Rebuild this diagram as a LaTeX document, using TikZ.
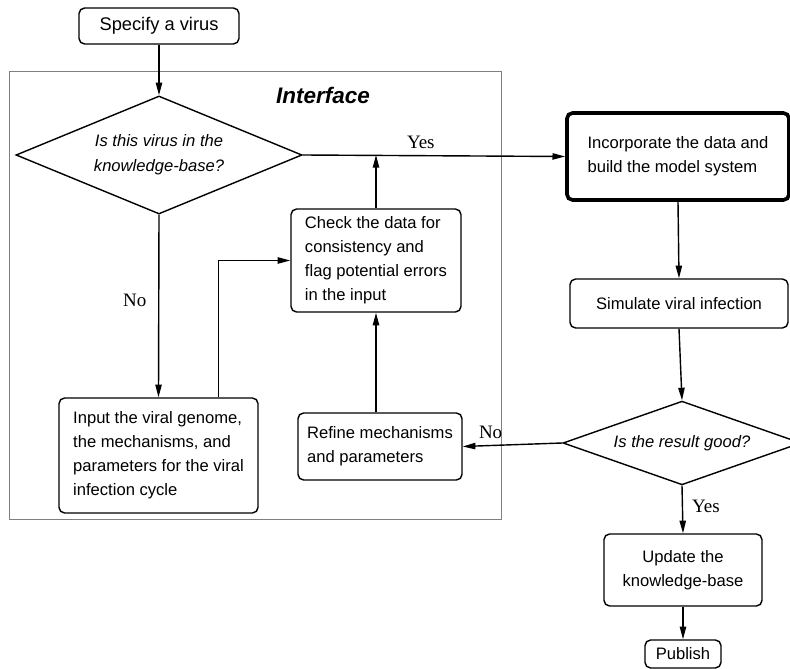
\documentclass[tikz,border=0pt]{standalone}
\usepackage{fontspec}
\setmainfont{Liberation Sans}
\newfontfamily\answerfont{Liberation Serif}
\usetikzlibrary{shapes.geometric,arrows.meta}

\tikzset{
  stepbox/.style={draw, rounded corners=4pt, line width=1pt, inner sep=0pt,
    font=\fontsize{11.8}{17}\selectfont},
  decision/.style={draw, diamond, line width=1pt, inner sep=0pt, aspect=2,
    font=\fontsize{11.8}{17.5}\selectfont\itshape},
  answer/.style={font=\answerfont\fontsize{13.5}{15}\selectfont},
  flow/.style={-{Triangle[length=9pt,width=4.5pt]}, line width=1pt},
}

\begin{document}
\begin{tikzpicture}[x=0.025cm, y=-0.025cm]
\useasboundingbox (0,0) rectangle (790,669);
\clip (0,0) rectangle (790,669);

% the interface frame
\draw [gray, line width=0.7pt] (9,71) rectangle (501,519);
\node [font=\bfseries\itshape\fontsize{16}{18}\selectfont] (iflabel) at (323,95) {Interface};

\node [stepbox, font=\fontsize{13}{15}\selectfont, minimum width=4cm, minimum height=0.9cm] (specify) at (159,26) {Specify a virus};
\node [decision, minimum width=7.15cm, minimum height=2.95cm, align=center] (inkb) at (159,155)
  {Is this virus in the\\knowledge-base?};
\node [stepbox, minimum width=4.25cm, minimum height=2.575cm, align=left] (check) at (376,260.5)
  {Check the data for\\consistency and\\flag potential errors\\in the input};
\node [stepbox, minimum width=4.975cm, minimum height=2.875cm, align=left] (input) at (158.5,455.5)
  {Input the viral genome,\\the mechanisms, and\\parameters for the viral\\infection cycle};
\node [stepbox, minimum width=4.1cm, minimum height=1.675cm, align=left] (refine) at (380,446.5)
  {Refine mechanisms\\and parameters};

\node [stepbox, line width=2.6pt, minimum width=5.55cm, minimum height=2.175cm, align=left] (build) at (678,156.5)
  {Incorporate the data and\\build the model system};
\node [stepbox, minimum width=5.45cm, minimum height=1.225cm] (simulate) at (679,303.5) {Simulate viral infection};
\node [decision, minimum width=5.95cm, minimum height=2cm] (good) at (682,443) {Is the result good?};
\node [stepbox, minimum width=3.95cm, minimum height=1.8cm, align=center] (update) at (683,570)
  {Update the\\knowledge-base};
\node [stepbox, minimum width=1.9cm, minimum height=0.7cm] (publish) at (683,654) {Publish};

\draw [flow] (specify) -- (inkb);
\draw [flow] (inkb.east) -- (build.west) node [answer, pos=0.45, above=1pt] {Yes};
\draw [flow] (inkb.south) -- (input.north) node [answer, pos=0.47, left=5pt] {No};
\draw [flow] ([xshift=-1cm]input.north east) |- (check.west);
\draw [flow] (check.south |- refine.north) -- (check.south);
\draw [flow] (check.north) -- (check.north |- inkb.east);

\draw [flow] (build.south) -- (simulate.north);
\draw [flow] (simulate.south) -- (good.north);
\draw [flow] (good.west) -- (refine.east) node [answer, pos=0.72, above=1pt] {No};
\draw [flow] (good.south) -- (update.north) node [answer, pos=0.43, right=3pt] {Yes};
\draw [flow] (update) -- (publish);

\end{tikzpicture}
\end{document}
